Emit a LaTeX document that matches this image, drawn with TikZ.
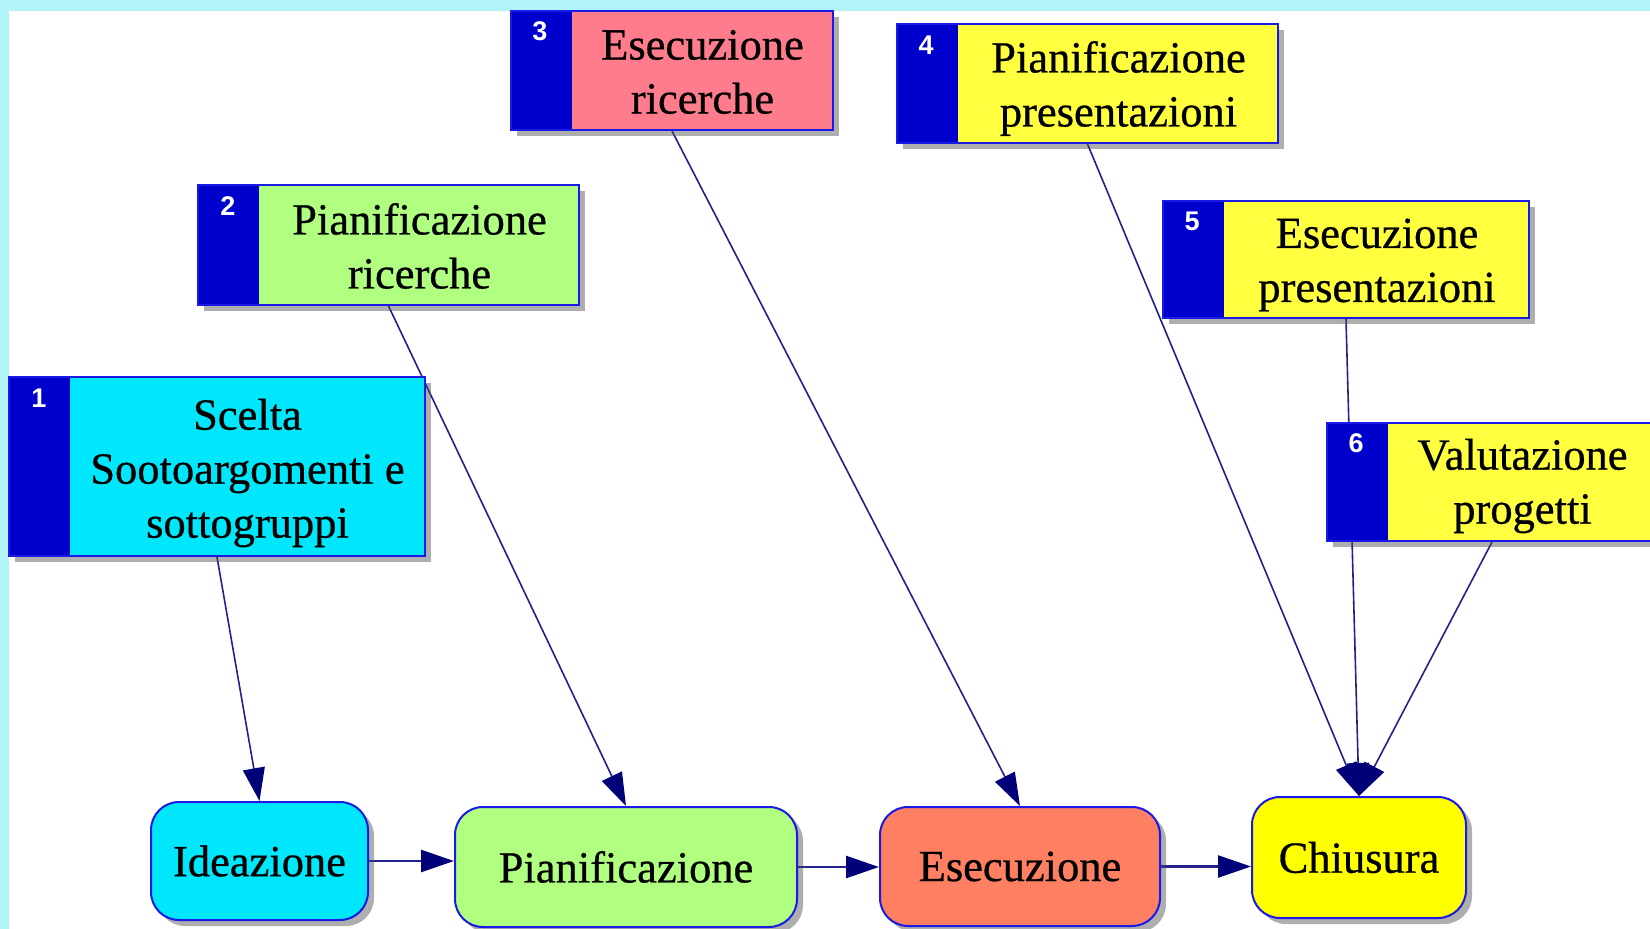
\documentclass[tikz,border=0pt]{standalone}
\usepackage{fontspec}
\setmainfont[FakeBold=0.6]{Liberation Serif}
\newfontfamily\numfont{Liberation Sans}
\usetikzlibrary{arrows.meta,shadows,backgrounds,calc}
\definecolor{framec}{HTML}{B3F4FA}
\definecolor{tabc}{HTML}{0000CD}
\definecolor{bordc}{HTML}{1A1AE6}
\definecolor{linec}{HTML}{22228C}
\definecolor{headc}{HTML}{000078}
\definecolor{cyanf}{HTML}{00E6FA}
\definecolor{greenf}{HTML}{B0FF80}
\definecolor{pinkf}{HTML}{FF7C8C}
\definecolor{yellowf}{HTML}{FFFF40}
\definecolor{salmonf}{HTML}{FF7F62}
\definecolor{yellowc}{HTML}{FFFF00}
\tikzset{
  shad/.style={drop shadow={shadow xshift=6pt, shadow yshift=-6pt, opacity=0.45, fill=black!70}},
  tbox/.style={draw=bordc, line width=2pt, inner sep=0pt, shad,
    path picture={\fill[tabc] (path picture bounding box.north west) rectangle ([xshift=61pt]path picture bounding box.south west);}},
  rbox/.style={draw=bordc, line width=2pt, inner sep=0pt, rounded corners=28pt, shad,
    font=\fontsize{44.5pt}{55pt}\selectfont},
  txtlbl/.style={align=center, inner sep=0pt, font=\fontsize{44.5pt}{54pt}\selectfont},
  numlbl/.style={inner sep=0pt, text=white, font=\numfont\bfseries\fontsize{27pt}{27pt}\selectfont},
  conn/.style={draw=linec, line width=1.6pt, -{Triangle[length=33pt,width=22pt,fill=headc,color=headc]}},
  hconn/.style={draw=linec, line width=2.5pt, -{Triangle[length=33pt,width=22pt,fill=headc,color=headc]}}
}
\begin{document}
\begin{tikzpicture}[x=1pt,y=-1pt]
\useasboundingbox (0,0) rectangle (1650,929);
\begin{scope}[on background layer]
  \fill[framec] (0,0) rectangle (1650,929);
  \fill[white] (9,11) rectangle (1650,929);
\end{scope}

% task boxes
\node[tbox, fill=cyanf, minimum width=416pt, minimum height=179pt] (s1) at (217,466.5) {};
\node[txtlbl] (s1t) at (247.5,473) {Scelta\\Sootoargomenti e\\sottogruppi};
\node[numlbl] (s1n) at (39,398) {1};

\node[tbox, fill=greenf, minimum width=381pt, minimum height=120pt] (s2) at (388.5,245) {};
\node[txtlbl] (s2t) at (419.5,246) {Pianificazione\\ricerche};
\node[numlbl] (s2n) at (228,206) {2};

\node[tbox, fill=pinkf, minimum width=322pt, minimum height=119pt] (s3) at (672,70.5) {};
\node[txtlbl] (s3t) at (702.5,72) {Esecuzione\\ricerche};
\node[numlbl] (s3n) at (540,31) {3};

\node[tbox, fill=yellowf, minimum width=381pt, minimum height=119pt] (s4) at (1087.5,83.5) {};
\node[txtlbl] (s4t) at (1118.5,88.5) {Pianificazione\\presentazioni};
\node[numlbl] (s4n) at (926,45) {4};

\node[tbox, fill=yellowf, minimum width=366pt, minimum height=117pt] (s5) at (1346,259.5) {};
\node[txtlbl] (s5t) at (1377,265) {Esecuzione\\presentazioni};
\node[numlbl] (s5n) at (1192,221) {5};

\node[tbox, fill=yellowf, minimum width=330pt, minimum height=118pt] (s6) at (1492,482) {};
\node[txtlbl] (s6t) at (1522.5,486) {Valutazione\\progetti};
\node[numlbl] (s6n) at (1356,443) {6};

% phase boxes
\node[rbox, fill=cyanf, minimum width=217pt, minimum height=118pt] (ide) at (259.5,861) {Ideazione};
\node[rbox, fill=greenf, minimum width=342pt, minimum height=120pt] (pian) at (626,867) {Pianificazione};
\node[rbox, fill=salmonf, minimum width=280pt, minimum height=119pt] (esec) at (1020,866.5) {Esecuzione};
\node[rbox, fill=yellowc, minimum width=214pt, minimum height=121pt] (chius) at (1359,857.5) {Chiusura};

\begin{scope}[on background layer]
  \draw[conn] (s1.south) -- (ide.north);
  \draw[conn] (s2.south) -- (pian.north);
  \draw[conn] (s3.south) -- (esec.north);
  \draw[conn] (s4.south) -- (chius.north);
  \draw[conn] (s5.south) -- (chius.north);
  \draw[conn] (s6.south) -- (chius.north);
  \draw[hconn] (ide.east) -- (ide.east -| pian.west);
  \draw[hconn] (pian.east) -- (pian.east -| esec.west);
  \draw[hconn] (esec.east) -- (esec.east -| chius.west);
\end{scope}
\end{tikzpicture}
\end{document}
